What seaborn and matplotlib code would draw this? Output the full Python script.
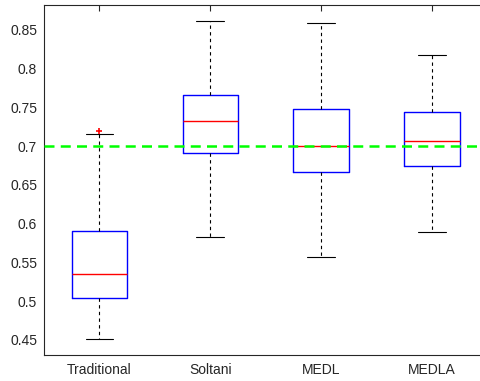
import matplotlib
matplotlib.use("Agg")
import matplotlib.pyplot as plt
import seaborn as sns

categories = ["Traditional", "Soltani", "MEDL", "MEDLA"]
q1 = [0.504, 0.6905, 0.6665, 0.6746]
med = [0.535, 0.7326, 0.7004, 0.706]
q3 = [0.5906, 0.766, 0.748, 0.7443]
whislo = [0.4513, 0.583, 0.5576, 0.5888]
whishi = [0.7155, 0.8616, 0.859, 0.8173]
fliers = [[0.7194], [], [], []]
threshold = 0.7
yticks = [0.45, 0.5, 0.55, 0.6, 0.65, 0.7, 0.75, 0.8, 0.85]
ytick_labels = ["0.45", "0.5", "0.55", "0.6", "0.65", "0.7", "0.75", "0.8", "0.85"]

sns.set_style("white")
plt.rcParams["font.family"] = ["Liberation Sans", "DejaVu Sans"]

fig = plt.figure(figsize=(4.81, 3.81), dpi=100)
fig.patch.set_linewidth(0)
fig.patch.set_edgecolor("white")
ax = fig.add_axes([44 / 481, 1 - 355 / 381, 443.5 / 481, 350 / 381])

stats = []
for i, c in enumerate(categories):
    stats.append(dict(label=c, q1=q1[i], med=med[i], q3=q3[i],
                      whislo=whislo[i], whishi=whishi[i], fliers=fliers[i]))

ax.bxp(stats, positions=[1, 2, 3, 4], widths=0.5, showfliers=True,
       boxprops=dict(color="#0000ff", linewidth=1.0),
       medianprops=dict(color="#ff0000", linewidth=1.0),
       whiskerprops=dict(color="black", linewidth=0.8, linestyle=(0, (3, 3))),
       capprops=dict(color="black", linewidth=0.8),
       capwidths=0.25,
       flierprops=dict(marker="+", markeredgecolor="#ff0000", markersize=5, markeredgewidth=1.2))

ax.axhline(threshold, color="#00ff00", linewidth=1.8, linestyle=(0, (4, 2.5)), zorder=5)

ax.set_xlim(0.5, 4.5)
ax.set_ylim(0.4306, 0.882)
ax.set_yticks(yticks)
ax.set_yticklabels(ytick_labels)
ax.set_xticks([1, 2, 3, 4])
ax.set_xticklabels(categories)

for s in ax.spines.values():
    s.set_color("#262626")
    s.set_linewidth(0.8)
ax.spines["right"].set_visible(False)
ax.tick_params(direction="in", length=4, width=0.8, color="#262626",
               labelsize=10, labelcolor="#262626", top=True, right=False)
ax.tick_params(axis="x", pad=6)
ax.tick_params(axis="y", pad=5)

fig.savefig("out.png", dpi=100, edgecolor="white")
